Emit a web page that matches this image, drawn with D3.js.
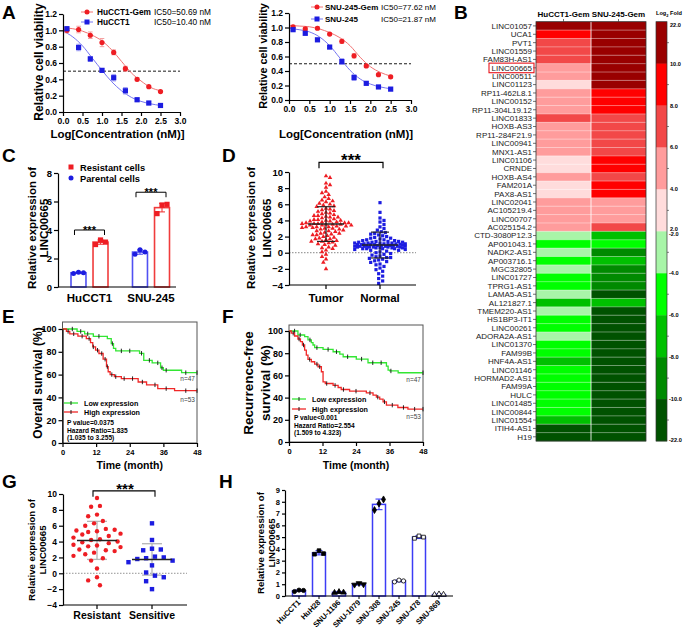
<!DOCTYPE html>
<html><head><meta charset="utf-8">
<script src="https://cdn.jsdelivr.net/npm/d3@7/dist/d3.min.js"></script>
<style>html,body{margin:0;padding:0;background:#fff}svg{display:block}</style>
</head><body>
<svg id="fig" width="685" height="630" xmlns="http://www.w3.org/2000/svg"></svg>
<script>
// ================= DATA =================
// Panel A
const concLog = [0.1,0.4,0.7,1.0,1.3,1.6,1.9,2.2,2.5];
const fitX = [0,0.25,0.5,0.75,1.0,1.25,1.5,1.75,2.0,2.25,2.5];
const aXTicks = [0,0.5,1,1.5,2,2.5,3];
const aYTicks = [0,0.2,0.4,0.6,0.8,1.0,1.2];
const hucctGem    = [1.00,1.01,0.94,0.85,0.73,0.53,0.40,0.31,0.25];
const hucctGemErr = [0.03,0.04,0.04,0.05,0.03,0.03,0.02,0.01,0.01];
const hucct       = [1.02,0.79,0.65,0.51,0.42,0.26,0.15,0.11,0.08];
const hucctErr    = [0.02,0.04,0.03,0.02,0.04,0.04,0.02,0.02,0.01];
const hucctGemFit = [1.03,1.02,0.99,0.94,0.87,0.76,0.62,0.48,0.38,0.30,0.26];
const hucctFit    = [0.99,0.92,0.81,0.66,0.51,0.37,0.26,0.18,0.13,0.10,0.08];
const snuGem      = [1.01,0.98,0.99,0.91,0.81,0.61,0.47,0.35,0.32];
const snuGemErr   = [0.02,0.02,0.02,0.01,0.03,0.03,0.02,0.01,0.02];
const snu         = [0.97,0.92,0.83,0.73,0.53,0.31,0.23,0.18,0.15];
const snuErr      = [0.01,0.02,0.02,0.02,0.04,0.04,0.02,0.02,0.01];
const snuGemFit   = [1.03,1.02,1.01,0.98,0.93,0.86,0.75,0.59,0.46,0.38,0.33];
const snuFit      = [0.99,0.97,0.94,0.87,0.75,0.58,0.41,0.29,0.22,0.18,0.155];
const aNamesL = ["HuCCT1-Gem","HuCCT1"], aIcL = ["IC50=50.69 nM","IC50=10.40 nM"];
const aNamesR = ["SNU-245-Gem","SNU-245"], aIcR = ["IC50=77.62 nM","IC50=21.87 nM"];

// Panel B
const hmCols = ["HuCCT1-Gem","SNU-245-Gem"];
const hmGenes = ["LINC01057","UCA1","PVT1","LINC01559","FAM83H-AS1","LINC00665","LINC00511","LINC01123",
 "RP11-462L8.1","LINC00152","RP11-304L19.12","LINC01833","HOXB-AS3","RP11-284F21.9","LINC00941","MNX1-AS1",
 "LINC01106","CRNDE","HOXB-AS4","FAM201A","PAX8-AS1","LINC02041","AC105219.4","LINC00707","AC025154.2",
 "CTD-3080P12.3","AP001043.1","NADK2-AS1","AP003716.1","MGC32805","LINC01727","TPRG1-AS1","LAMA5-AS1",
 "AL121827.1","TMEM220-AS1","HS1BP3-IT1","LINC00261","ADORA2A-AS1","LINC01370","FAM99B","HNF4A-AS1",
 "LINC01146","HORMAD2-AS1","FAM99A","HULC","LINC01485","LINC00844","LINC01554","ITIH4-AS1","H19"];
const hmHuCCT1 = [11,9,7,7,7,5,5,3,5,5,5,7,5,5,5,5,3,3,5,3,3,5,5,5,5,
 -3,-5,-3,-5,-3,-5,-5,-3,-7,-3,-5,-5,-3,-5,-5,-7,-5,-5,-5,-5,-5,-5,-7,-11,-11];
const hmSNU = [11,11,11,11,11,11,11,11,9,9,9,7,7,7,7,7,9,9,7,9,9,5,5,5,7,
 -7,-5,-9,-7,-9,-9,-9,-11,-7,-11,-11,-11,-11,-11,-11,-11,-11,-11,-11,-11,-11,-11,-11,-11,-11];
const hmBreaks = [-10,-8,-6,-4,0,4,6,8,10];
const hmColors = ["#005200","#008a00","#00c000","#00ff00","#a8f5a8","#ffdcdc","#ff9c9c","#f24848","#ff0000","#990000"];
const cbPosLabels = ["22.0","10.0","8.0","6.0","4.0","2.0"];
const cbNegLabels = ["-2.0","-4.0","-6.0","-8.0","-10.0","-22.0"];

// Panel C
const cGroups = ["HuCCT1","SNU-245"];
const cTypes = ["Parental","Resistant"];
const cParental = [1.0,2.45], cParentalErr = [0.05,0.15];
const cResistant = [3.15,5.57], cResistantErr = [0.15,0.3];
const cParentalPts = [[0.95,1.03,1.0],[2.3,2.62,2.45]];
const cResistantPts = [[2.98,3.3,3.15],[5.15,5.75,5.8]];
const cYTicks = [0,2,4,6,8];
const cBrackets = [4.0,6.65];

// Panel D
const dGroups = ["Tumor","Normal"];
const dTumor = [9.5,9.3,8.6,8.4,8.1,7.6,7.4,7.2,6.9,6.7,6.5,6.3,6.1,6.0,5.8,5.7,5.5,5.4,5.2,5.1,
 5.0,4.9,4.7,4.6,4.5,4.4,4.3,4.2,4.1,4.0,4.0,3.9,3.8,3.8,3.7,3.7,3.6,3.6,3.5,3.5,
 3.5,3.4,3.4,3.3,3.3,3.2,3.2,3.1,3.0,3.0,2.9,2.8,2.7,2.6,2.5,2.4,2.3,2.2,2.1,2.0,
 1.9,1.8,1.7,1.6,1.5,1.4,1.3,1.2,1.1,1.0,0.9,0.7,0.5,0.3,0.1,-0.2,-0.5,-0.8,-1.2,-2.0,
 4.8,4.1,3.9,3.6,3.4,3.1,2.7,2.4,5.9,6.4,2.2,1.7,4.4,3.7,3.2,2.9,4.6,5.3,1.4,0.6];
const dNormal = [6.2,5.0,4.3,4.0,3.8,3.5,3.2,3.0,2.8,2.6,2.5,2.4,2.2,2.1,2.0,1.9,1.8,1.7,1.6,1.5,
 1.5,1.4,1.4,1.3,1.3,1.2,1.2,1.2,1.1,1.1,1.1,1.0,1.0,1.0,1.0,0.9,0.9,0.9,0.9,0.8,
 0.8,0.8,0.8,0.8,0.7,0.7,0.7,0.7,0.6,0.6,0.6,0.5,0.5,0.5,0.4,0.4,0.3,0.3,0.2,0.1,
 0.0,-0.1,-0.2,-0.3,-0.4,-0.5,-0.6,-0.6,-0.7,-0.8,-0.9,-1.0,-1.1,-1.2,-1.4,-1.5,-1.7,-1.9,-2.1,-2.3,
 -2.6,-2.9,-3.2,-3.5,-3.8,1.6,1.3,1.0,0.9,0.7,1.1,1.2,0.8,0.6,1.4,1.8,2.3,0.5,0.95,1.05];
const dMean = [3.55,0.95], dSD = [2.15,1.6];
const dYTicks = [-4,-2,0,2,4,6,8,10];

// Panel E / F
const kmXTicks = [0,12,24,36,48];
const kmYTicks = [0,20,40,60,80,100];
const eLow = [[0,100],[5.2,97.9],[7.9,95.7],[11,93.6],[16,91.5],[17.4,87.2],[18.2,83],[19,80.8],[27.5,78.7],[29,72.5],[32,70.3],[35,66],[36,63.8],[42.5,61.7]];
const eHigh = [[0,100],[1.4,97.9],[2.6,95.8],[5.5,93.7],[8.5,91.6],[10,88],[10.8,84.3],[11.8,81.4],[13,78.5],[14.5,73.5],[15.7,67],[16.3,62.5],[17,60],[18.5,58.2],[21,56.5],[27,53.5],[30,51],[34,47.7],[40,45.9]];
const eLowCens = [3.5,6.5,9,13,17.8,21,24,28.2,31,34,35.5,37,44,48];
const eHighCens = [2,4,7,9.5,11,12.5,14,15.2,16,17.6,19,22,25,28.5,33,37,44,48];
const fLow = [[0,100],[3.2,96.4],[5.6,95],[6.8,92],[8,89.5],[8.6,87.4],[9.2,85],[12.2,83.4],[15.8,81.3],[18.2,79.2],[19.4,76.8],[24.1,74.7],[28.3,71.4],[34.9,68.4],[35.5,64.8],[36.1,64],[39.1,62.4]];
const fHigh = [[0,100],[0.8,98],[2,95.5],[3.2,92.8],[4.1,90.4],[4.8,87.4],[5.6,82.8],[6.2,78.3],[6.8,74.4],[8,72.3],[9.2,70.2],[10.4,67.8],[11.6,63.3],[12.2,54.2],[13,52.7],[15.8,51],[17.6,49.1],[18.7,47.3],[21.7,45.8],[27.7,44.3],[30.1,42.2],[31.3,40.4],[32.5,38.6],[33.7,36.2],[34.9,33.2],[39,31.1],[42.6,29.6]];
const fLowCens = [2,4,7.5,10,14,17,21,26,30,33,36.5,48];
const fHighCens = [1.5,3.6,5.2,7.4,10,11,13.5,16.5,19.5,24,29,31.8,34.2,37,41,45,48];
const eStats = ["P value=0.0375","Hazard Ratio=1.835","(1.035 to 3.255)"];
const fStats = ["P value<0.001","Hazard Ratio=2.554","(1.509 to 4.323)"];
const kmLegend = ["Low expression","High expression"];
const kmN = ["n=47","n=53"];

// Panel G
const gGroups = ["Resistant","Sensitive"];
const gResistant = [9.5,8.5,8.4,7.4,7.2,6.6,6.3,6.0,5.6,5.5,5.4,5.3,5.2,5.0,4.9,4.7,4.5,4.3,4.2,4.0,
 3.9,3.8,3.6,3.5,3.4,3.3,3.0,2.9,2.8,2.6,2.4,2.2,1.9,1.6,0.6,-0.5,-0.9,-1.5];
const gSensitive = [6.3,4.2,3.1,3.0,2.9,2.1,2.0,1.9,1.8,1.6,1.4,1.0,0.1,-0.3,-0.5,-1.0,-2.0];
const gMean = [4.15,1.75], gSD = [2.4,1.98];
const gYTicks = [-4,-2,0,2,4,6,8,10];

// Panel H
const hLines = ["HuCCT1","HuH28","SNU-1196","SNU-1079","SNU-308","SNU-245","SNU-478","SNU-869"];
const hMean = [0.45,3.67,0.31,1.0,7.78,1.28,5.0,0.12];
const hErr = [0.06,0.18,0.05,0.07,0.45,0.08,0.12,0.04];
const hPts = [[0.38,0.5,0.47],[3.55,3.85,3.6],[0.28,0.35,0.3],[0.95,1.08,0.98],[7.3,7.85,8.2],[1.2,1.35,1.28],[4.9,5.1,5.0],[0.1,0.15,0.12]];
const hYTicks = [0,1,2,3,4,5,6,7,8,9];

// ================= DRAWING =================
const FF = '"Liberation Sans", Arial, Helvetica, sans-serif';
const RED = "#ee1d23", BLUE = "#1c1ce0";
const svg = d3.select("#fig");
svg.append("rect").attr("width",685).attr("height",630).attr("fill","#fff");

function T(x,y,s,fs,o={}){
  const t = svg.append("text").attr("x",x).attr("y",y).attr("font-family",FF).attr("font-size",fs)
    .attr("font-weight",o.w||"bold").attr("text-anchor",o.a||"start").attr("fill",o.c||"#000").text(s);
  if(o.r!=null) t.attr("transform",`rotate(${o.r},${x},${y})`);
  if(o.dy) t.attr("dy",o.dy);
  return t;
}
function styleAxis(a,fs){
  a.selectAll("path,line").attr("stroke","#000").attr("stroke-width",1.2);
  a.selectAll("text").attr("font-family",FF).attr("font-size",fs).attr("font-weight","bold").attr("fill","#000");
}
function leftAxis(scale,x,ticks,fmt,fs,size=4){
  const a = svg.append("g").attr("transform",`translate(${x},0)`)
    .call(d3.axisLeft(scale).tickValues(ticks).tickFormat(fmt).tickSize(size).tickSizeOuter(0).tickPadding(2));
  styleAxis(a,fs); return a;
}
function bottomAxis(scale,y,ticks,fmt,fs,size=4,pad=2){
  const a = svg.append("g").attr("transform",`translate(0,${y})`)
    .call(d3.axisBottom(scale).tickValues(ticks).tickFormat(fmt).tickSize(size).tickSizeOuter(0).tickPadding(pad));
  styleAxis(a,fs); return a;
}
function hline(x1,x2,y,col,w,dash){const l=svg.append("line").attr("x1",x1).attr("x2",x2).attr("y1",y).attr("y2",y).attr("stroke",col).attr("stroke-width",w); if(dash) l.attr("stroke-dasharray",dash); return l;}
function vline(x,y1,y2,col,w){return svg.append("line").attr("x1",x).attr("x2",x).attr("y1",y1).attr("y2",y2).attr("stroke",col).attr("stroke-width",w);}
function errBar(x,y1,y2,cap,col,w){vline(x,y1,y2,col,w); hline(x-cap,x+cap,y1,col,w); hline(x-cap,x+cap,y2,col,w);}

// panel letters
[["A",2,19],["B",454,19],["C",2,162],["D",222,162],["E",2,323],["F",222,323],["G",2,488],["H",219,488]]
  .forEach(([s,x,y])=>T(x,y,s,19));

// ---------- Panel A ----------
function drawA(c){
  const x = d3.scaleLinear().domain([0,3]).range(c.xr);
  const y = d3.scaleLinear().domain([0,1.2]).range(c.yr);
  hline(x(0),x(3),y(0.5),"#000",0.9,"3,2");
  const ln = d3.line().x((d,i)=>x(fitX[i])).y(d=>y(d)).curve(d3.curveMonotoneX);
  svg.append("path").attr("d",ln(c.rFit)).attr("fill","none").attr("stroke","#f27272").attr("stroke-width",1);
  svg.append("path").attr("d",ln(c.bFit)).attr("fill","none").attr("stroke","#7676f2").attr("stroke-width",1);
  c.r.forEach((v,i)=>errBar(x(concLog[i]),y(v-c.rErr[i]),y(v+c.rErr[i]),2.3,"#f5a0a0",1));
  c.b.forEach((v,i)=>errBar(x(concLog[i]),y(v-c.bErr[i]),y(v+c.bErr[i]),2.3,"#a3a3f5",1));
  c.r.forEach((v,i)=>svg.append("circle").attr("cx",x(concLog[i])).attr("cy",y(v)).attr("r",2.6).attr("fill",RED));
  c.b.forEach((v,i)=>svg.append("rect").attr("x",x(concLog[i])-2.6).attr("y",y(v)-2.6).attr("width",5.2).attr("height",5.2).attr("fill",BLUE));
  leftAxis(y,x(0),aYTicks,d3.format(".1f"),8.5);
  bottomAxis(x,y(0),aXTicks,d3.format(".1f"),8.5);
  const L = c.leg;
  hline(L.mx-6,L.mx+6,L.y1,"#f27272",1); svg.append("circle").attr("cx",L.mx).attr("cy",L.y1).attr("r",2.5).attr("fill",RED);
  hline(L.mx-6,L.mx+6,L.y2,"#7676f2",1); svg.append("rect").attr("x",L.mx-2.5).attr("y",L.y2-2.5).attr("width",5).attr("height",5).attr("fill",BLUE);
  T(L.nx,L.y1+3,c.names[0],c.lfs); T(L.nx,L.y2+3,c.names[1],c.lfs);
  T(L.ix,L.y1+3,c.ics[0],c.lfs,{w:"normal"}); T(L.ix,L.y2+3,c.ics[1],c.lfs,{w:"normal"});
  T(c.ylx,c.yly,"Relative cell viability",c.yfs,{r:-90,a:"middle",dy:"0.35em"});
  T((c.xr[0]+c.xr[1])/2-4,138,"Log[Concentration (nM)]",11.5,{a:"middle"});
}
drawA({xr:[63,180],yr:[112,14],r:hucctGem,rErr:hucctGemErr,b:hucct,bErr:hucctErr,rFit:hucctGemFit,bFit:hucctFit,
  leg:{mx:87,y1:12,y2:22,nx:97,ix:154},names:aNamesL,ics:aIcL,ylx:39,yly:62,yfs:12,lfs:8.3});
drawA({xr:[289,411],yr:[100,13],r:snuGem,rErr:snuGemErr,b:snu,bErr:snuErr,rFit:snuGemFit,bFit:snuFit,
  leg:{mx:317,y1:7,y2:19,nx:325,ix:381},names:aNamesR,ics:aIcR,ylx:263,yly:56,yfs:10.8,lfs:8});

// ---------- Panel B ----------
(function(){
  const hx = d3.scaleBand().domain(hmCols).range([536,646]);
  const hy = d3.scaleBand().domain(hmGenes).range([21.7,441]);
  const col = d3.scaleThreshold().domain(hmBreaks).range(hmColors);
  const vals = [hmHuCCT1,hmSNU];
  hmCols.forEach((c,j)=>{
    hmGenes.forEach((g,i)=>{
      svg.append("rect").attr("x",hx(c)).attr("y",hy(g)).attr("width",hx.bandwidth()).attr("height",hy.bandwidth()+0.3)
        .attr("fill",col(vals[j][i]));
    });
  });
  hmGenes.forEach((g,i)=>{ if(i>0) hline(536,646,hy(g),"rgba(255,255,255,0.55)",0.7); });
  vline(hx(hmCols[1]),21.7,441,"rgba(255,255,255,0.85)",1);
  svg.append("rect").attr("x",536).attr("y",21.7).attr("width",110).attr("height",419.3).attr("fill","none").attr("stroke","#333").attr("stroke-width",0.8);
  hmGenes.forEach(g=>{
    const yy = hy(g)+hy.bandwidth()/2;
    hline(533,536,yy,"#333",0.7);
    T(532,yy+2.9,g,8,{w:"normal",a:"end",c:"#222"});
  });
  hmCols.forEach(c=>{
    const xx = hx(c)+hx.bandwidth()/2;
    vline(xx,19,21.7,"#333",0.7);
    T(xx,16.5,c,8,{a:"middle"});
  });
  const y665 = hy("LINC00665");
  svg.append("rect").attr("x",489).attr("y",y665-0.5).attr("width",45).attr("height",hy.bandwidth()+1.2)
    .attr("fill","none").attr("stroke","#e8141b").attr("stroke-width",1.1);
  const cy = d3.scaleLinear().domain([0,10]).range([21.7,441]);
  for(let k=0;k<10;k++){
    svg.append("rect").attr("x",656).attr("y",cy(k)).attr("width",11).attr("height",cy(k+1)-cy(k)+0.3).attr("fill",hmColors[9-k]);
    hline(667,669,(cy(k)+cy(k+1))/2,"#333",0.6);
  }
  svg.append("rect").attr("x",656).attr("y",21.7).attr("width",11).attr("height",419.3).attr("fill","none").attr("stroke","#333").attr("stroke-width",0.7);
  cbPosLabels.forEach((s,i)=>{ let yy = cy(i); if(i===0) yy+=3; if(i===5) yy-=2.5; T(670,yy+2,s,5.6); });
  cbNegLabels.forEach((s,i)=>{ let yy = cy(i+5); if(i===0) yy+=2.5; if(i===5) yy-=1; T(669,yy+2,s,5.6); });
  const lt = T(656,15,"Log",5.6); lt.append("tspan").attr("font-size",4).attr("dy",1.5).text("2");
  lt.append("tspan").attr("dy",-1.5).text(" Fold");
})();

// ---------- Panel C ----------
(function(){
  const x = d3.scalePoint().domain(cGroups).range([89.5,151]);
  const sub = d3.scaleBand().domain(cTypes).range([-18.5,18.5]).paddingInner(0.32);
  const y = d3.scaleLinear().domain([0,8]).range([287,173]);
  const series = [
    {t:"Parental",v:cParental,e:cParentalErr,p:cParentalPts,col:"#5050f2",mk:"#1c1ce0",shape:"circle"},
    {t:"Resistant",v:cResistant,e:cResistantErr,p:cResistantPts,col:"#f03c3c",mk:"#ee1d23",shape:"square"}];
  const offs = [-5,0,5];
  cGroups.forEach((g,i)=>{
    series.forEach(s=>{
      const bx = x(g)+sub(s.t), bw = sub.bandwidth(), cx = bx+bw/2;
      svg.append("rect").attr("x",bx).attr("y",y(s.v[i])).attr("width",bw).attr("height",y(0)-y(s.v[i]))
        .attr("fill","#fff").attr("stroke",s.col).attr("stroke-width",1.6);
      errBar(cx,y(s.v[i]-s.e[i]),y(s.v[i]+s.e[i]),3,s.col,1.1);
      s.p[i].forEach((v,k)=>{
        if(s.shape==="circle") svg.append("circle").attr("cx",cx+offs[k]).attr("cy",y(v)).attr("r",2.5).attr("fill",s.mk);
        else svg.append("rect").attr("x",cx+offs[k]-2.6).attr("y",y(v)-2.6).attr("width",5.2).attr("height",5.2).attr("fill",s.mk);
      });
    });
    const x1 = x(g)+sub("Parental")+sub.bandwidth()/2-4, x2 = x(g)+sub("Resistant")+sub.bandwidth()/2+4;
    const by = y(cBrackets[i]);
    svg.append("path").attr("d",`M${x1},${by+5}V${by}H${x2}V${by+5}`).attr("fill","none").attr("stroke","#000").attr("stroke-width",1);
    T((x1+x2)/2,by+4,"***",11,{a:"middle"});
  });
  leftAxis(y,58,cYTicks,d3.format("d"),9.5);
  hline(58,176,287,"#000",1.2);
  cGroups.forEach(g=>T(x(g),302,g,11.5,{a:"middle"}));
  T(32,228,"Relative expression of",11.5,{r:-90,a:"middle",dy:"0.35em"});
  T(44,228,"LINC00665",11.5,{r:-90,a:"middle",dy:"0.35em"});
  svg.append("rect").attr("x",68.5).attr("y",164.5).attr("width",5).attr("height",5).attr("fill",RED);
  T(80,170.5,"Resistant cells",9.3);
  svg.append("circle").attr("cx",71).attr("cy",178).attr("r",2.5).attr("fill",BLUE);
  T(80,181.5,"Parental cells",9.3);
})();

function swarm(vals, ys, rr, maxW){
  const pts = vals.map(v=>({v, y:ys(v), x:0}));
  const order = pts.slice().sort((a,b)=>a.y-b.y);
  const placed = [];
  const step = rr*0.7;
  for(const p of order){
    let best = 0, bestD = -1, found = false;
    for(let k=0;k<=Math.ceil(maxW/step) && !found;k++){
      const cands = k===0 ? [0] : (placed.length%2 ? [k*step,-k*step] : [-k*step,k*step]);
      for(const dx of cands){
        let minD = Infinity;
        for(const q of placed){ const d = Math.hypot(q.x-dx,q.y-p.y); if(d<minD) minD=d; }
        if(minD>=2*rr){ best=dx; found=true; break; }
        if(minD>bestD){ bestD=minD; best=dx; }
      }
    }
    p.x = best; placed.push(p);
  }
  return pts;
}

// ---------- Panel D ----------
(function(){
  const x = d3.scalePoint().domain(dGroups).range([326,380]);
  const y = d3.scaleLinear().domain([-4,10]).range([285,172]);
  hline(289,416,y(0),"#777",0.9,"1.5,1.5");
  const tri = d3.symbol().type(d3.symbolTriangle).size(9);
  swarm(dTumor,y,1.9,25).forEach(p=>svg.append("path").attr("d",tri()).attr("transform",`translate(${x("Tumor")+p.x},${p.y})`).attr("fill",RED));
  swarm(dNormal,y,1.9,25).forEach(p=>svg.append("rect").attr("x",x("Normal")+p.x-1.6).attr("y",p.y-1.6).attr("width",3.2).attr("height",3.2).attr("fill",BLUE));
  dGroups.forEach((g,i)=>{
    errBar(x(g),y(dMean[i]-dSD[i]),y(dMean[i]+dSD[i]),9,"#222",1.2);
    hline(x(g)-18,x(g)+18,y(dMean[i]),"#222",1.6);
  });
  leftAxis(y,289,dYTicks,d3.format("d"),9.5);
  hline(289,416,285,"#000",1.2);
  dGroups.forEach(g=>{ vline(x(g),285,289,"#000",1.2); T(x(g),302,g,11.5,{a:"middle"}); });
  const by = y(11.2);
  svg.append("path").attr("d",`M319,${by+6}V${by}H383V${by+6}`).attr("fill","none").attr("stroke","#000").attr("stroke-width",1.2);
  T(351,by+4,"***",17,{a:"middle"});
  T(251,228,"Relative expression of",11.5,{r:-90,a:"middle",dy:"0.35em"});
  T(267,228,"LINC00665",11.5,{r:-90,a:"middle",dy:"0.35em"});
})();

// ---------- Panels E, F ----------
function stepVal(steps,t){ let v = steps[0][1]; steps.forEach(s=>{ if(s[0]<=t) v=s[1]; }); return v; }
function drawKM(c){
  const x = d3.scaleLinear().domain([0,48]).range(c.xr);
  const y = d3.scaleLinear().domain([0,100]).range(c.yr);
  svg.append("rect").attr("x",c.xr[0]).attr("y",c.top).attr("width",c.xr[1]-c.xr[0]).attr("height",c.yr[0]-c.top)
    .attr("fill","none").attr("stroke","#555").attr("stroke-width",1);
  const ln = d3.line().x(d=>x(d[0])).y(d=>y(d[1])).curve(d3.curveStepAfter);
  [[c.low,c.lowC,"#33e633"],[c.high,c.highC,"#f02828"]].forEach(([st,cen,col])=>{
    const data = st.concat([[48,st[st.length-1][1]]]);
    svg.append("path").attr("d",ln(data)).attr("fill","none").attr("stroke",col).attr("stroke-width",1.3);
    cen.forEach(t=>{ const v = stepVal(st,t); vline(x(t),y(v)-2.2,y(v)+2.2,"#111",0.9); });
  });
  leftAxis(y,c.xr[0],kmYTicks,d3.format("d"),9);
  bottomAxis(x,c.yr[0],kmXTicks,d3.format("d"),7.5,4,3);
  T((c.xr[0]+c.xr[1])/2,469,"Time (month)",10.5,{a:"middle"});
  const L = c.leg;
  hline(L.x,L.x+14,L.y1,"#33e633",1.3); vline(L.x+7,L.y1-2,L.y1+2,"#111",0.9);
  hline(L.x,L.x+14,L.y2,"#f02828",1.3); vline(L.x+7,L.y2-2,L.y2+2,"#111",0.9);
  T(L.x+20,L.y1+2.5,kmLegend[0],7.2); T(L.x+20,L.y2+2.5,kmLegend[1],7.2);
  c.stats.forEach((s,i)=>T(L.sx,L.sy+i*7.6,s,6.6));
  T(c.xr[1]-2,c.n1y,kmN[0],6.5,{w:"normal",a:"end",c:"#444"});
  T(c.xr[1]-2,c.n2y,kmN[1],6.5,{w:"normal",a:"end",c:"#444"});
}
drawKM({xr:[62.5,197],yr:[443,329],top:322,low:eLow,high:eHigh,lowC:eLowCens,highC:eHighCens,stats:eStats,
  leg:{x:64,y1:403,y2:412,sx:67,sy:425},n1y:381,n2y:402});
drawKM({xr:[289,423],yr:[442,331],top:325,low:fLow,high:fHigh,lowC:fLowCens,highC:fHighCens,stats:fStats,
  leg:{x:292,y1:399,y2:409,sx:294,sy:420},n1y:382,n2y:419});
T(38,383,"Overall survival (%)",12,{r:-90,a:"middle",dy:"0.35em"});
T(248,383,"Recurrence-free",13.5,{r:-90,a:"middle",dy:"0.35em"});
T(265,383,"survival (%)",13.5,{r:-90,a:"middle",dy:"0.35em"});

// ---------- Panel G ----------
(function(){
  const x = d3.scalePoint().domain(gGroups).range([97,152]);
  const y = d3.scaleLinear().domain([-4,10]).range([605,494]);
  hline(63,187,y(0),"#888",0.9,"1.5,1.5");
  gGroups.forEach((g,i)=>{
    errBar(x(g),y(gMean[i]-gSD[i]),y(gMean[i]+gSD[i]),10,"#b4b4b4",1.3);
  });
  swarm(gResistant,y,4.2,22).forEach(p=>svg.append("circle").attr("cx",x("Resistant")+p.x).attr("cy",p.y).attr("r",2.2).attr("fill",RED));
  swarm(gSensitive,y,4.2,22).forEach(p=>svg.append("rect").attr("x",x("Sensitive")+p.x-2.2).attr("y",p.y-2.2).attr("width",4.4).attr("height",4.4).attr("fill",BLUE));
  gGroups.forEach((g,i)=>hline(x(g)-20,x(g)+20,y(gMean[i]),"#222",1.5));
  leftAxis(y,63,gYTicks,d3.format("d"),8.5);
  hline(63,187,605,"#000",1.2);
  gGroups.forEach(g=>{ vline(x(g),605,609,"#000",1.2); T(x(g),619,g,10.5,{a:"middle"}); });
  const by = y(10.4);
  svg.append("path").attr("d",`M93,${by+6}V${by}H155V${by+6}`).attr("fill","none").attr("stroke","#000").attr("stroke-width",1.1);
  T(125,by+3,"***",15,{a:"middle"});
  T(32,550,"Relative expression of",9.6,{r:-90,a:"middle",dy:"0.35em"});
  T(42.5,550,"LINC00665",9.6,{r:-90,a:"middle",dy:"0.35em"});
})();

// ---------- Panel H ----------
(function(){
  const x = d3.scaleBand().domain(hLines).range([289,449]).paddingInner(0.35).paddingOuter(0.175);
  const y = d3.scaleLinear().domain([0,9]).range([596,490]);
  const shapes = [
    {t:d3.symbolCircle,f:"#000"},{t:d3.symbolSquare,f:"#000"},{t:d3.symbolTriangle,f:"#000"},{t:d3.symbolTriangle,f:"#000",flip:true},
    {t:d3.symbolDiamond,f:"#000"},{t:d3.symbolCircle,f:"#fff"},{t:d3.symbolSquare,f:"#fff"},{t:d3.symbolTriangle,f:"#fff"}];
  const offs = [-4.5,0,4.5];
  hLines.forEach((g,i)=>{
    const bx = x(g), bw = x.bandwidth(), cx = bx+bw/2;
    svg.append("rect").attr("x",bx).attr("y",y(hMean[i])).attr("width",bw).attr("height",y(0)-y(hMean[i]))
      .attr("fill","#fff").attr("stroke","#3c3cf5").attr("stroke-width",1.5);
    errBar(cx,y(hMean[i]-hErr[i]),y(hMean[i]+hErr[i]),3.5,"#3c3cf5",1.1);
    const sh = shapes[i];
    const sym = d3.symbol().type(sh.t).size(14);
    hPts[i].forEach((v,k)=>{
      svg.append("path").attr("d",sym()).attr("transform",`translate(${cx+offs[k]},${y(v)})${sh.flip?" rotate(180)":""}`)
        .attr("fill",sh.f).attr("stroke","#000").attr("stroke-width",0.8);
    });
  });
  leftAxis(y,285,hYTicks,d3.format("d"),7.5,3);
  hline(285,453,596,"#000",1.2);
  hLines.forEach(g=>{
    const cx = x(g)+x.bandwidth()/2;
    vline(cx,596,599,"#000",1);
    T(cx+2,603,g,7.6,{a:"end",r:-45});
  });
  T(261,543,"Relative expression of",9.6,{r:-90,a:"middle",dy:"0.35em"});
  T(272,543,"LINC00665",9.6,{r:-90,a:"middle",dy:"0.35em"});
})();
</script>
</body></html>
